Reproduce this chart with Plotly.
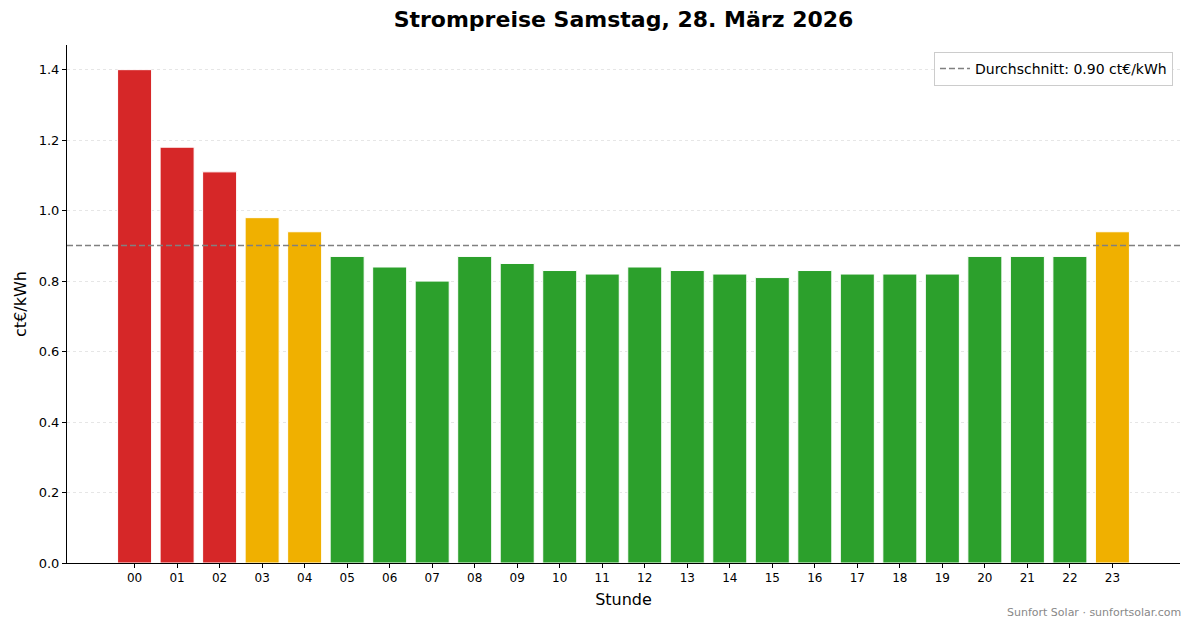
import plotly.graph_objects as go

hours = ['00', '01', '02', '03', '04', '05', '06', '07', '08', '09', '10', '11',
         '12', '13', '14', '15', '16', '17', '18', '19', '20', '21', '22', '23']
prices = [1.40, 1.18, 1.11, 0.98, 0.94, 0.87, 0.84, 0.80, 0.87, 0.85, 0.83, 0.82,
          0.84, 0.83, 0.82, 0.81, 0.83, 0.82, 0.82, 0.82, 0.87, 0.87, 0.87, 0.94]
yticks = [0.0, 0.2, 0.4, 0.6, 0.8, 1.0, 1.2, 1.4]

RED = '#d62728'
ORANGE = '#f0b000'
GREEN = '#2ca02c'

avg = sum(prices) / len(prices)

# teuer / mittel / guenstig
colors = []
for p in prices:
    if p > avg * 1.1:
        colors.append(RED)
    elif p > avg:
        colors.append(ORANGE)
    else:
        colors.append(GREEN)

font = 'DejaVu Sans, Liberation Sans, sans-serif'

fig = go.Figure()
fig.add_trace(go.Bar(
    x=list(range(len(hours))), y=prices,
    marker=dict(color=colors, line=dict(color='white', width=1)),
    width=0.8, showlegend=False, hoverinfo='x+y'))

# Durchschnittslinie ueber die ganze Breite
pad = 0.05 * (len(hours) - 0.2)
xr = [-0.4 - pad, len(hours) - 0.6 + pad]
fig.add_trace(go.Scatter(
    x=xr, y=[avg, avg], mode='lines',
    line=dict(color='#808080', width=1.5, dash='6px,3px'),
    name='Durchschnitt: %.2f ct€/kWh' % avg))

# page has 8px body margin -> figure is 8px smaller
fig.update_layout(
    width=1185, height=620,
    margin=dict(l=57, r=13, t=37, b=65),
    paper_bgcolor='white', plot_bgcolor='white',
    font=dict(family=font, color='black'),
    title=dict(text='<b>Strompreise Samstag, 28. März 2026</b>',
               xref='paper', x=0.5, xanchor='center', y=0.982, yanchor='middle',
               font=dict(size=22, family=font)),
    legend=dict(x=0.9937, y=0.9865, xanchor='right', yanchor='top',
                bgcolor='white', bordercolor='#cccccc', borderwidth=1,
                font=dict(size=14, family=font), tracegroupgap=0,
                itemwidth=30),
    bargap=0.2,
)
fig.update_xaxes(
    range=xr, tickmode='array', tickvals=list(range(len(hours))), ticktext=hours,
    showline=True, linecolor='black', linewidth=1, ticks='outside', ticklen=4,
    tickcolor='black', showgrid=False, zeroline=False,
    tickfont=dict(size=12),
    title=dict(text='Stunde', font=dict(size=16), standoff=9))
fig.update_yaxes(
    range=[0, 1.47], tickmode='array', tickvals=yticks,
    ticktext=['%.1f' % t for t in yticks],
    showline=True, linecolor='black', linewidth=1, ticks='outside', ticklen=4,
    tickcolor='black', showgrid=True, gridcolor='#e6e6e6', griddash='dot',
    gridwidth=1, zeroline=False, tickfont=dict(size=13),
    title=dict(text='ct€/kWh', font=dict(size=16), standoff=8))

fig.add_annotation(text='Sunfort Solar · sunfortsolar.com', xref='paper', yref='paper',
                   x=1.003, y=-0.0965, xanchor='right', yanchor='middle',
                   showarrow=False, font=dict(size=11, color='#888888'))

fig.write_html('out.html')
